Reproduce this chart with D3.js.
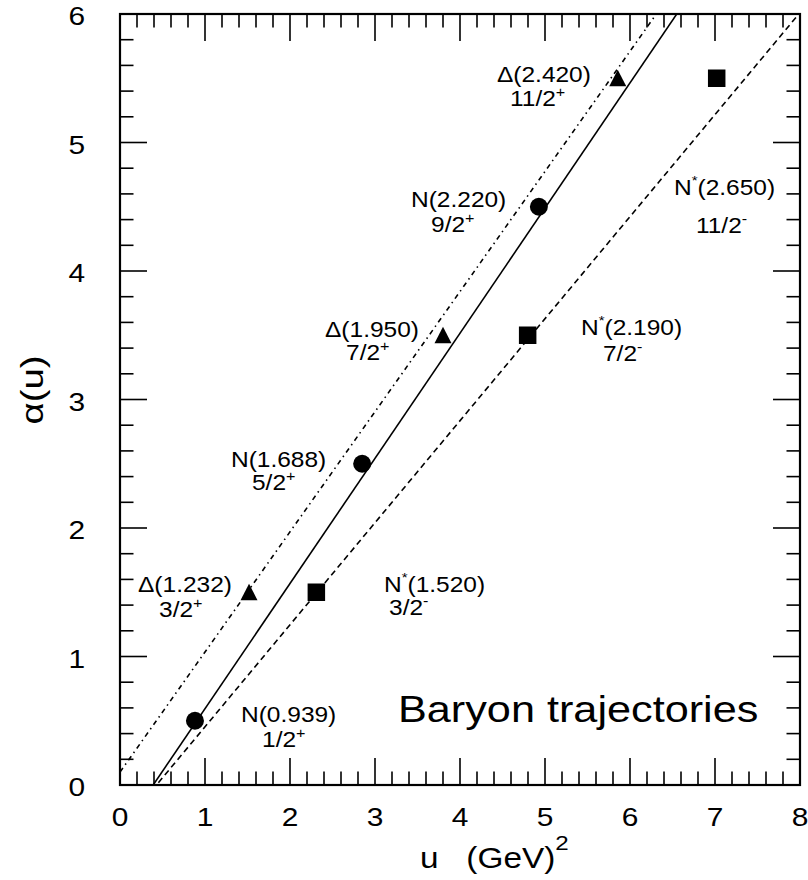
<!DOCTYPE html>
<html>
<head>
<meta charset="utf-8">
<script src="https://cdn.jsdelivr.net/npm/d3@7"></script>
<style>
  body { margin: 0; background: #fff; }
  svg { display: block; }
  text { font-family: "Liberation Sans", Arial, Helvetica, sans-serif; fill: #000; }
</style>
</head>
<body>
<svg id="chart" width="808" height="880"></svg>
<script>
// ---- data ----
const xTicks = [0, 1, 2, 3, 4, 5, 6, 7, 8];
const yTicks = [0, 1, 2, 3, 4, 5, 6];

// N trajectory (circles)
const uN = [0.882, 2.849, 4.928];
const aN = [0.5, 2.5, 4.5];
// Delta trajectory (triangles)
const uD = [1.518, 3.80, 5.856];
const aD = [1.5, 3.5, 5.5];
// N* trajectory (squares)
const uS = [2.31, 4.796, 7.02];
const aS = [1.5, 3.5, 5.5];

// trajectory lines alpha(u) = a0 + a1*u
const lineNames = ["N", "Delta", "Nstar"];
const lineIntercepts = [-0.38, 0.10, -0.341];
const lineSlopes = [0.974, 0.935, 0.794];

// particle labels: name, mass, spin-parity
const labName = ["\u0394", "N", "N", "\u0394", "N", "\u0394", "N*", "N*", "N*"];
const labMass = ["1.232", "0.939", "1.688", "1.950", "2.220", "2.420", "2.650", "2.190", "1.520"];
const labJ = ["3/2", "1/2", "5/2", "7/2", "9/2", "11/2", "11/2", "7/2", "3/2"];
const labP = ["+", "+", "+", "+", "+", "+", "-", "-", "-"];
// label anchor positions in data units (line 1 and line 2)
const lab1U = [0.212, 1.424, 1.306, 2.412, 3.424, 4.435, 6.518, 5.424, 3.106];
const lab1A = [1.502, 0.490, 2.475, 3.486, 4.498, 5.471, 4.591, 3.502, 1.502];
const lab2U = [0.459, 1.671, 1.553, 2.659, 3.659, 4.588, 6.776, 5.682, 3.165];
const lab2A = [1.307, 0.296, 2.296, 3.307, 4.304, 5.284, 4.296, 3.300, 1.323];

// ---- layout ----
const svg = d3.select("#chart");
const L = 120, R = 800, T = 14, B = 785;
const x = d3.scaleLinear().domain([0, 8]).range([L, R]);
const y = d3.scaleLinear().domain([0, 6]).range([B, T]);
const SX = 1.15;

svg.append("defs").append("clipPath").attr("id", "clip")
  .append("rect").attr("x", L).attr("y", T).attr("width", R - L).attr("height", B - T);

// ---- trajectory lines ----
const dashes = [null, "5,4,1.5,4", "6,4"];
const lineGen = d3.line().x(d => x(d[0])).y(d => y(d[1]));
lineNames.forEach((n, i) => {
  const pts = [0, 8].map(u => [u, lineIntercepts[i] + lineSlopes[i] * u]);
  svg.append("path")
    .attr("clip-path", "url(#clip)")
    .attr("d", lineGen(pts))
    .attr("fill", "none")
    .attr("stroke", "#000")
    .attr("stroke-width", 1.6)
    .attr("stroke-dasharray", dashes[i]);
});

// ---- markers ----
svg.append("g").selectAll("circle").data(uN.map((u, i) => [u, aN[i]])).join("circle")
  .attr("cx", d => x(d[0])).attr("cy", d => y(d[1])).attr("r", 9).attr("fill", "#000");
svg.append("g").selectAll("rect").data(uS.map((u, i) => [u, aS[i]])).join("rect")
  .attr("x", d => x(d[0]) - 8.75).attr("y", d => y(d[1]) - 8.75)
  .attr("width", 17.5).attr("height", 17.5).attr("fill", "#000");
svg.append("g").selectAll("path").data(uD.map((u, i) => [u, aD[i]])).join("path")
  .attr("transform", d => `translate(${x(d[0])},${y(d[1])})`)
  .attr("d", "M0,-8.5L8.5,8L-8.5,8Z").attr("fill", "#000");

// ---- frame and ticks ----
const axG = svg.append("g").attr("stroke", "#000").attr("stroke-width", 1.6);
const xMinor = d3.range(0, 8.001, 0.2);
const yMinor = d3.range(0, 6.001, 0.2);
xMinor.forEach(v => {
  const major = Math.abs(v - Math.round(v)) < 1e-6;
  const len = major ? 27 : 13.5;
  axG.append("line").attr("x1", x(v)).attr("x2", x(v)).attr("y1", B).attr("y2", B - len);
  axG.append("line").attr("x1", x(v)).attr("x2", x(v)).attr("y1", T).attr("y2", T + len);
});
yMinor.forEach(v => {
  const major = Math.abs(v - Math.round(v)) < 1e-6;
  const len = major ? 27 : 13.5;
  axG.append("line").attr("y1", y(v)).attr("y2", y(v)).attr("x1", L).attr("x2", L + len);
  axG.append("line").attr("y1", y(v)).attr("y2", y(v)).attr("x1", R).attr("x2", R - len);
});
svg.append("rect").attr("x", L).attr("y", T).attr("width", R - L).attr("height", B - T)
  .attr("fill", "none").attr("stroke", "#000").attr("stroke-width", 2.2);

// ---- tick labels ----
xTicks.forEach(v => {
  svg.append("text")
    .attr("transform", `translate(${x(v)},${B + 41}) scale(${SX},1)`)
    .attr("text-anchor", "middle").attr("font-size", 26).text(v);
});
yTicks.forEach(v => {
  svg.append("text")
    .attr("transform", `translate(85,${y(v) + 11}) scale(${SX},1)`)
    .attr("text-anchor", "end").attr("font-size", 26).text(v);
});

// ---- axis titles ----
const xt = svg.append("text")
  .attr("transform", `translate(420,868) scale(${SX},1)`)
  .attr("font-size", 29).attr("xml:space", "preserve").style("white-space", "pre");
xt.append("tspan").text("u   (GeV)");
xt.append("tspan").attr("font-size", 21).attr("dy", -18).text("2");

svg.append("text")
  .attr("transform", `translate(43,390) rotate(-90) scale(1.2,1)`)
  .attr("text-anchor", "middle").attr("font-size", 32).text("\u03b1(u)");

// ---- title ----
svg.append("text")
  .attr("transform", `translate(398,722) scale(${SX},1)`)
  .attr("font-size", 37.6).text("Baryon trajectories");

// ---- particle labels ----
labName.forEach((nm, i) => {
  const t1 = svg.append("text")
    .attr("transform", `translate(${x(lab1U[i])},${y(lab1A[i])}) scale(${SX},1)`)
    .attr("font-size", 21.3);
  if (nm.endsWith("*")) {
    t1.append("tspan").text(nm.slice(0, -1));
    t1.append("tspan").attr("font-size", 13).attr("dy", -10).text("*");
    t1.append("tspan").attr("dy", 10).text("(" + labMass[i] + ")");
  } else {
    t1.append("tspan").text(nm + "(" + labMass[i] + ")");
  }
  const t2 = svg.append("text")
    .attr("transform", `translate(${x(lab2U[i])},${y(lab2A[i])}) scale(${SX},1)`)
    .attr("font-size", 21.3);
  t2.append("tspan").text(labJ[i]);
  t2.append("tspan").attr("font-size", 14).attr("dy", -9).text(labP[i] === "-" ? "-" : "+");
});
</script>
</body>
</html>
